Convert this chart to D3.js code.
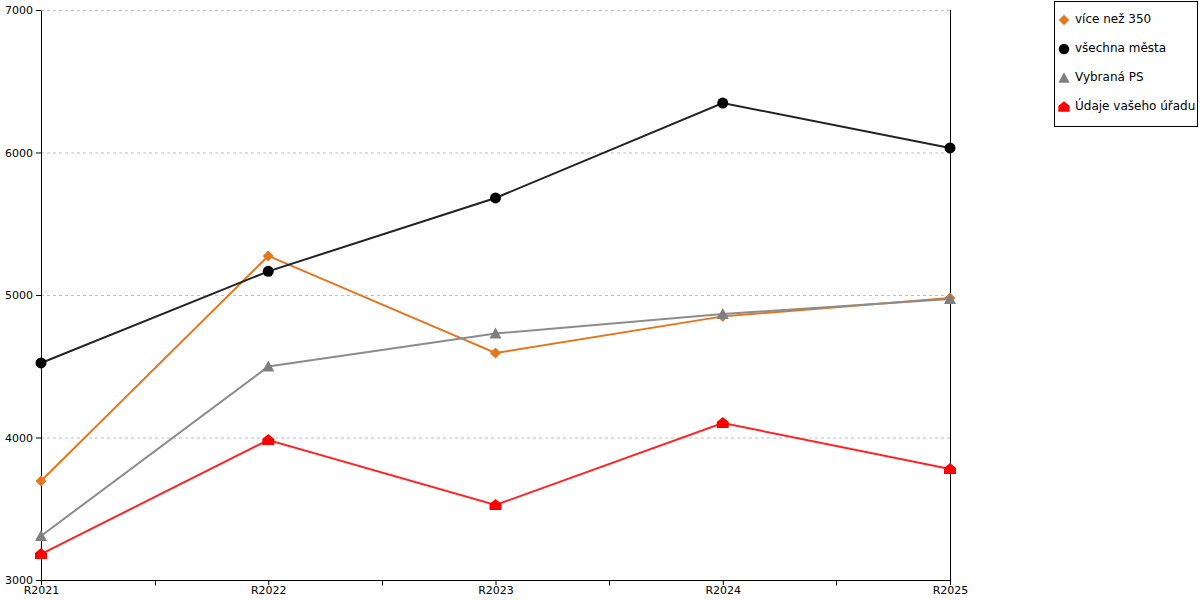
<!DOCTYPE html>
<html>
<head>
<meta charset="utf-8">
<script src="https://cdn.jsdelivr.net/npm/d3@7"></script>
<style>
  body { margin: 0; background: #fff; }
  svg { font-family: "DejaVu Sans", Verdana, sans-serif; }
</style>
</head>
<body>
<svg id="chart" width="1200" height="600"></svg>
<script>
// categories and values
var years = ['R2021', 'R2022', 'R2023', 'R2024', 'R2025'];
var viceNez350 = [3695, 5274, 4593, 4850, 4979];
var vsechnaMesta = [4523, 5166, 5681, 6347, 6032];
var vybranaPS = [3309, 4498, 4730, 4866, 4972];
var udajeUradu = [3182, 3982, 3526, 4102, 3779];
var yTicks = [3000, 4000, 5000, 6000, 7000];

var series = [
    {name: 'více než 350', values: viceNez350, color: '#e6761e', line: '#e6761e', shape: 'diamond'},
    {name: 'všechna města', values: vsechnaMesta, color: '#000', line: '#222', shape: 'circle'},
    {name: 'Vybraná PS', values: vybranaPS, color: '#7f7f7f', line: '#8c8c8c', shape: 'triangle'},
    {name: 'Údaje vašeho úřadu', values: udajeUradu, color: '#ff0000', line: '#ff2424', shape: 'house'}
];

(function() {
var plotLeft = 41, plotRight = 950, plotTop = 10, plotBottom = 580;
var svg = d3.select('#chart');

var x = d3.scalePoint().domain(years).range([plotLeft, plotRight]);
var y = d3.scaleLinear().domain([3000, 7000]).range([plotBottom, plotTop]);

// grid
svg.append('g').selectAll('line')
    .data(yTicks.slice(1)).enter()
    .append('line')
    .attr('x1', plotLeft).attr('x2', plotRight)
    .attr('y1', function(d){ return y(d) + 0.5; })
    .attr('y2', function(d){ return y(d) + 0.5; })
    .attr('stroke', '#c0c0c0')
    .attr('stroke-dasharray', '3,3');

// y axis (d3 adds the half-pixel offset itself)
var yAxis = svg.append('g')
    .attr('transform', 'translate(' + plotLeft + ',0)')
    .call(d3.axisLeft(y).tickValues(yTicks).tickSize(5).tickSizeOuter(0).tickFormat(d3.format('d')));
yAxis.selectAll('.domain, line').attr('stroke', '#000');
yAxis.selectAll('text').attr('font-size', 11).attr('fill', '#000')
    .attr('font-family', '"DejaVu Sans", Verdana, sans-serif');

// x axis with minor ticks between categories
var xAxis = svg.append('g')
    .attr('transform', 'translate(0,' + plotBottom + ')')
    .call(d3.axisBottom(x).tickSize(5).tickSizeOuter(0));
xAxis.selectAll('.domain, line').attr('stroke', '#000');
xAxis.selectAll('text').attr('font-size', 11).attr('fill', '#000')
    .attr('y', 5).attr('dy', '0.8em')
    .attr('font-family', '"DejaVu Sans", Verdana, sans-serif');
var mids = years.slice(1).map(function(d, i){ return (x(years[i]) + x(d)) / 2; });
xAxis.selectAll('.minor').data(mids).enter()
    .append('line').attr('class', 'minor')
    .attr('x1', function(d){ return Math.round(d) + 0.5; })
    .attr('x2', function(d){ return Math.round(d) + 0.5; })
    .attr('y1', 0.5).attr('y2', 5.5)
    .attr('stroke', '#000');

// right border line
svg.append('line')
    .attr('x1', plotRight + 0.5).attr('x2', plotRight + 0.5)
    .attr('y1', plotTop).attr('y2', plotBottom)
    .attr('stroke', '#000');

function markerPath(shape) {
    if (shape === 'diamond') return 'M0,-5.5L5.5,0L0,5.5L-5.5,0Z';
    if (shape === 'circle') return d3.symbol().type(d3.symbolCircle).size(95)();
    if (shape === 'triangle') return 'M0,-6L6,5L-6,5Z';
    return 'M-6,-1L0,-6L6,-1L6,5L-6,5Z';
}

var line = d3.line()
    .x(function(d, i){ return x(years[i]); })
    .y(function(d){ return y(d); });

series.forEach(function(s) {
    var g = svg.append('g');
    g.append('path')
        .attr('d', line(s.values))
        .attr('fill', 'none')
        .attr('stroke', s.line)
        .attr('stroke-width', 2);
    g.selectAll('path.m').data(s.values).enter()
        .append('path').attr('class', 'm')
        .attr('d', markerPath(s.shape))
        .attr('transform', function(d, i){ return 'translate(' + x(years[i]) + ',' + y(d) + ')'; })
        .attr('fill', s.color);
});

// legend
var legend = svg.append('g');
legend.append('rect')
    .attr('x', 1054.5).attr('y', 1.5)
    .attr('width', 143).attr('height', 125)
    .attr('fill', '#fff').attr('stroke', '#000');
var items = legend.selectAll('g.item').data(series).enter()
    .append('g').attr('class', 'item')
    .attr('transform', function(d, i){ return 'translate(0,' + (19 + i * 29) + ')'; });
items.append('path')
    .attr('d', function(d){ return markerPath(d.shape); })
    .attr('transform', 'translate(1064,1) scale(0.95)')
    .attr('fill', function(d){ return d.color; });
items.append('text')
    .attr('x', 1075).attr('y', 0)
    .attr('dy', '0.35em')
    .attr('font-size', 12)
    .text(function(d){ return d.name; });
})();
</script>
</body>
</html>
